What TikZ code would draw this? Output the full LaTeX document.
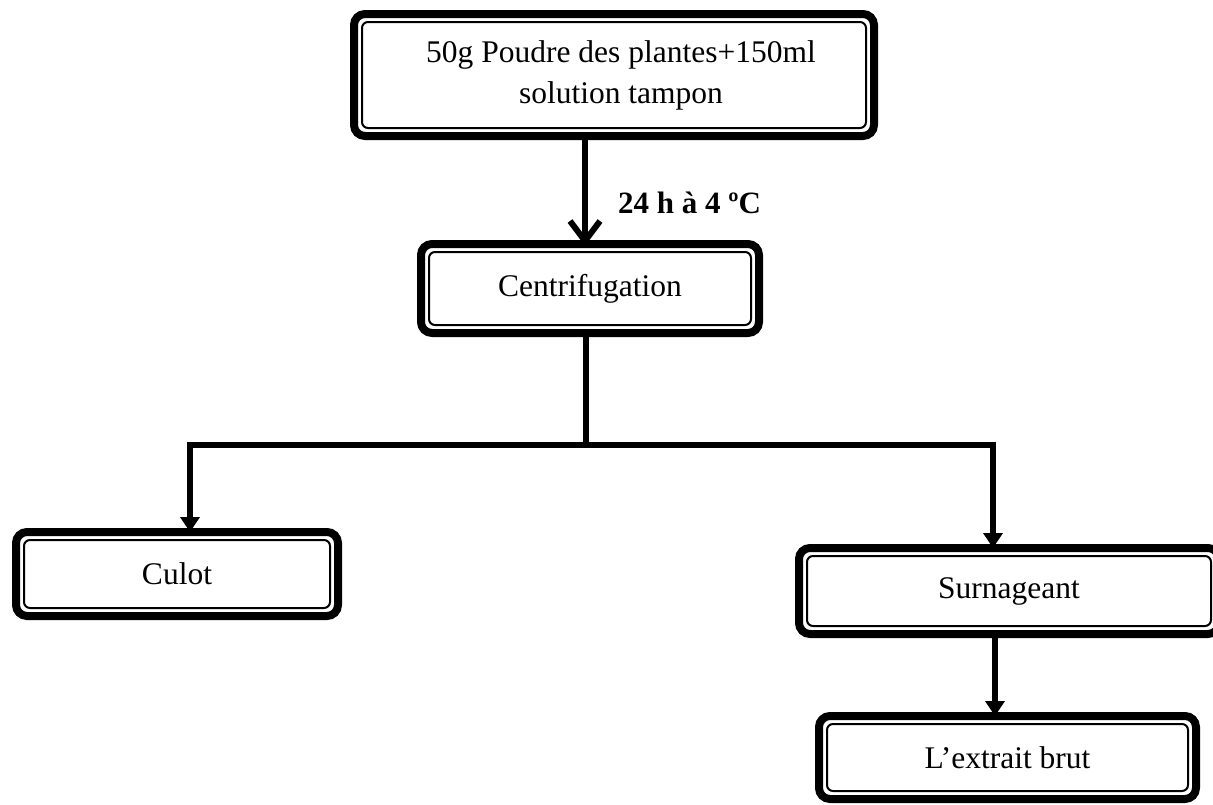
\documentclass[tikz,border=0pt]{standalone}
\usepackage{fontspec}
\setmainfont{Liberation Serif}
\usetikzlibrary{arrows.meta}
\begin{document}
\begin{tikzpicture}[x=1pt,y=-1pt,
  box/.style={draw, line width=8pt, rounded corners=11pt, outer sep=0pt, inner sep=0pt, align=center,
    font=\fontsize{31.5}{41}\selectfont},
  innerline/.style={draw, line width=2pt, rounded corners=6pt},
  conn/.style={line width=6.5pt, line join=miter},
  openarrow/.style={conn, -{Straight Barb[length=20pt,width=30pt,line width=6pt]}},
  filledarrow/.style={conn, -{Triangle[length=15pt,width=19pt]}},
  lbl/.style={font=\fontsize{31}{37}\selectfont\bfseries, anchor=west, inner sep=0pt}
]
\useasboundingbox (0,0) rectangle (1213,804);
\node[box, minimum width=520pt, minimum height=122pt] (top) at (614,75) {\hspace*{14pt}50g Poudre des plantes+150ml\\\hspace*{14pt}solution tampon};
\node[box, minimum width=338pt, minimum height=89pt] (cent) at (590,288.5) {Centrifugation};
\node[box, minimum width=322pt, minimum height=84pt] (culot) at (177,574) {Culot};
\node[box, minimum width=420pt, minimum height=86pt] (surn) at (1009,591) {Surnageant};
\node[box, minimum width=377pt, minimum height=83pt] (extr) at (1007.5,757.5) {L’extrait brut};
\foreach \n in {top,cent,culot,surn,extr}
  \draw[innerline] ([shift={(8pt,-8pt)}]\n.north west) rectangle ([shift={(-8pt,8pt)}]\n.south east);
\node[lbl] (cond) at (618,203) {24 h à 4 ºC};
\coordinate (j) at (586,445);
\draw[openarrow] ([xshift=-29pt]top.south) -- ([xshift=-5pt,yshift=-2pt]cent.north);
\draw[conn] ([xshift=-4pt]cent.south) -- (j);
\draw[filledarrow] (j) -| ([xshift=13pt]culot.north);
\draw[filledarrow] (j) -| ([xshift=-16pt]surn.north);
\draw[filledarrow] ([xshift=-14pt]surn.south) -- ([xshift=-12.5pt]extr.north);
\end{tikzpicture}
\end{document}
